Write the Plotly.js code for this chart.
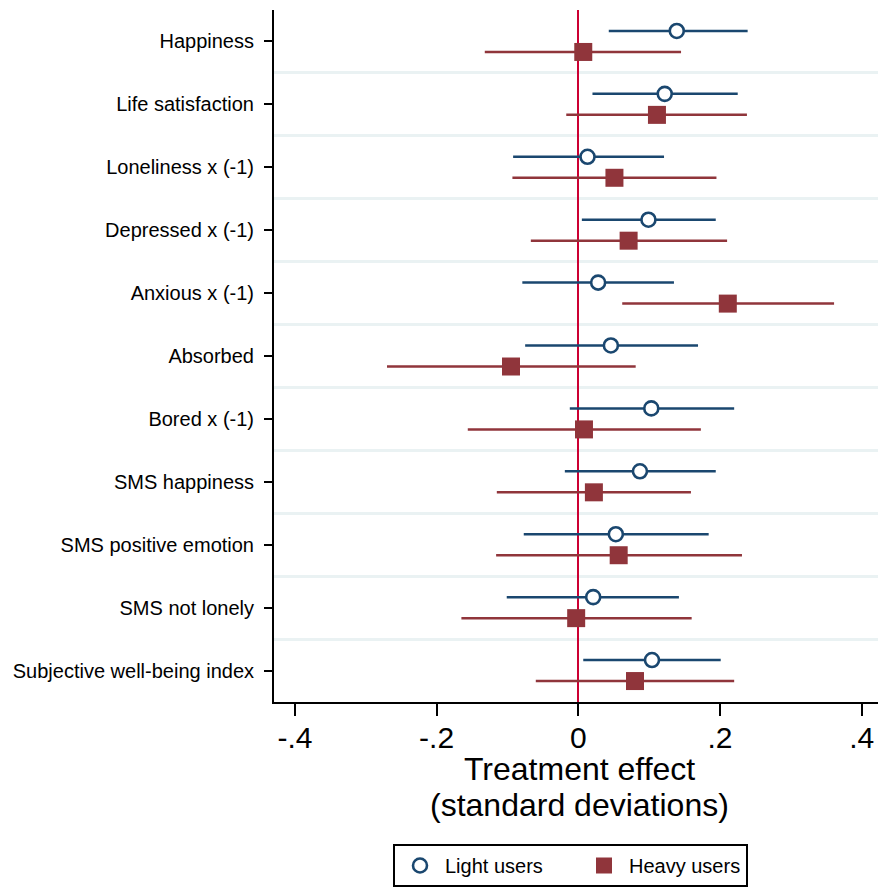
<!DOCTYPE html>
<html>
<head>
<meta charset="utf-8">
<script src="https://cdn.plot.ly/plotly-3.0.1.min.js"></script>
<style>html,body{margin:0;padding:0;background:#fff;}#chart{width:878px;height:888px;}</style>
</head>
<body>
<div id="chart"></div>
<script>
// ---- data ----
var categories = ['Happiness', 'Life satisfaction', 'Loneliness x (-1)', 'Depressed x (-1)',
  'Anxious x (-1)', 'Absorbed', 'Bored x (-1)', 'SMS happiness', 'SMS positive emotion',
  'SMS not lonely', 'Subjective well-being index'];
var lightEst = [0.139, 0.122, 0.013, 0.099, 0.028, 0.046, 0.103, 0.087, 0.053, 0.021, 0.104];
var lightLo  = [0.043, 0.020, -0.092, 0.005, -0.079, -0.075, -0.012, -0.019, -0.077, -0.101, 0.007];
var lightHi  = [0.239, 0.225, 0.121, 0.194, 0.135, 0.169, 0.220, 0.194, 0.184, 0.142, 0.201];
var heavyEst = [0.007, 0.111, 0.051, 0.071, 0.211, -0.095, 0.008, 0.022, 0.057, -0.003, 0.080];
var heavyLo  = [-0.132, -0.017, -0.093, -0.067, 0.062, -0.270, -0.156, -0.115, -0.116, -0.165, -0.060];
var heavyHi  = [0.145, 0.238, 0.195, 0.210, 0.361, 0.081, 0.173, 0.159, 0.231, 0.160, 0.220];
var xTickVals = [-0.4, -0.2, 0, 0.2, 0.4];
var xTickText = ['-.4', '-.2', '0', '.2', '.4'];
var seriesNames = ['Light users', 'Heavy users'];
var xTitleLines = ['Treatment effect', '(standard deviations)'];

// ---- styling / layout ----
var NAVY = '#1a476f', MAROON = '#90353b';
var OFF = 0.167;
var pos = categories.map(function (c, i) { return i + 1; });
var gridPos = categories.slice(1).map(function (c, i) { return i + 1.5; });

// plot area in pixels (for placing the two-line axis title below the plot)
var ML = 274, MT = 10, MB = 186, W = 878, H = 888;
var PW = W - ML, PH = H - MT - MB;
function px2paperX(px) { return (px - ML) / PW; }
function px2paperY(py) { return (H - MB - py) / PH; }

var light = {
  type: 'scatter', mode: 'markers', name: seriesNames[0],
  x: lightEst, y: pos.map(function (p) { return p - OFF; }),
  marker: { symbol: 'circle', size: 14, color: '#ffffff', line: { color: NAVY, width: 2.6 } },
  error_x: { type: 'data', symmetric: false,
    array: lightEst.map(function (v, i) { return lightHi[i] - v; }),
    arrayminus: lightEst.map(function (v, i) { return v - lightLo[i]; }),
    width: 0, thickness: 2.5, color: NAVY },
  legendwidth: 129,
  hoverinfo: 'x+name'
};
var heavy = {
  type: 'scatter', mode: 'markers', name: seriesNames[1],
  x: heavyEst, y: pos.map(function (p) { return p + OFF; }),
  marker: { symbol: 'square', size: 18, color: MAROON, line: { width: 0 } },
  error_x: { type: 'data', symmetric: false,
    array: heavyEst.map(function (v, i) { return heavyHi[i] - v; }),
    arrayminus: heavyEst.map(function (v, i) { return v - heavyLo[i]; }),
    width: 0, thickness: 2.5, color: MAROON },
  hoverinfo: 'x+name'
};

var FONT = 'Liberation Sans, Arial, Helvetica, sans-serif';
var layout = {
  width: W, height: H,
  margin: { l: ML, r: 0, t: MT, b: MB },
  paper_bgcolor: '#ffffff', plot_bgcolor: '#ffffff',
  font: { family: FONT, color: '#000000' },
  showlegend: true,
  xaxis: {
    range: [-0.4295, 0.423],
    tickmode: 'array', tickvals: xTickVals, ticktext: xTickText,
    tickfont: { size: 30, color: '#000' },
    ticks: 'outside', ticklen: 12, tickwidth: 2, tickcolor: '#000',
    ticklabelstandoff: -4,
    showline: true, linecolor: '#000', linewidth: 2,
    showgrid: false,
    zeroline: true, zerolinecolor: '#cc0033', zerolinewidth: 1.6
  },
  yaxis: {
    range: [categories.length + 0.5, 0.5],
    tickmode: 'array', tickvals: pos, ticktext: categories,
    tickfont: { size: 20, color: '#000' },
    ticks: 'outside', ticklen: 8, tickwidth: 2, tickcolor: '#000',
    ticklabelstandoff: 6,
    showline: true, linecolor: '#000', linewidth: 2,
    showgrid: false, zeroline: false,
    minor: { tickmode: 'array', tickvals: gridPos, showgrid: true, gridcolor: '#eaf2f3', gridwidth: 3, ticks: '' }
  },
  annotations: [
    { text: xTitleLines[0], xref: 'paper', yref: 'paper', x: px2paperX(579), y: px2paperY(769),
      xanchor: 'center', yanchor: 'middle', showarrow: false, font: { size: 32, color: '#000' } },
    { text: xTitleLines[1], xref: 'paper', yref: 'paper', x: px2paperX(579), y: px2paperY(805),
      xanchor: 'center', yanchor: 'middle', showarrow: false, font: { size: 32, color: '#000' } }
  ],
  legend: {
    orientation: 'h', xref: 'container', yref: 'container',
    x: 393 / W, xanchor: 'left', y: 1 - 844 / H, yanchor: 'top',
    bordercolor: '#000', borderwidth: 2, bgcolor: '#fff',
    font: { size: 20, color: '#000' },
    itemwidth: 40
  }
};

Plotly.newPlot('chart', [light, heavy], layout, { staticPlot: true, displayModeBar: false });
</script>
</body>
</html>
